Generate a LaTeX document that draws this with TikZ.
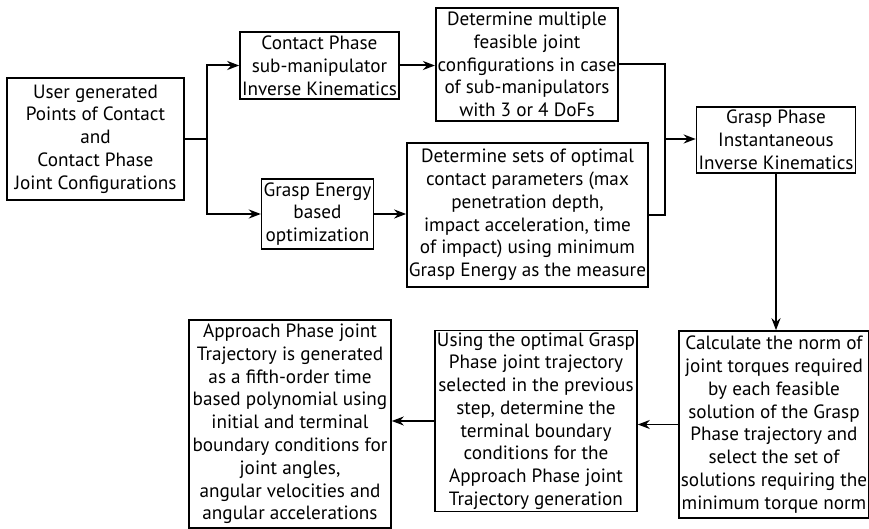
\documentclass[tikz,border=0pt]{standalone}
\usepackage{fontspec}
\setmainfont{PT Sans}
\usetikzlibrary{arrows.meta, positioning}

\begin{document}
\begin{tikzpicture}[
    x=0.5pt, y=-0.5pt,
    box/.style={rectangle, draw, line width=0.8pt, align=center, inner sep=1pt, font=\fontsize{9.6}{11.4}\selectfont},
    arrow/.style={-{Stealth[length=6pt, width=4.5pt]}, line width=1pt},
    link/.style={line width=1pt}
]
\useasboundingbox (0,0) rectangle (869,529);

% first row of steps
\node[box, minimum width=88.5pt, minimum height=61pt] (user) at (95.5,139) {User generated\\Points of Contact\\and\\Contact Phase\\Joint Configurations};
\node[box, minimum width=78.5pt, minimum height=33.5pt] (contact) at (319.5,65.5) {Contact Phase\\sub-manipulator\\Inverse Kinematics};
\node[box, minimum width=54.5pt, minimum height=35pt] (genergy) at (317.5,214) {Grasp Energy\\based\\optimization};
\node[box, minimum width=90pt, minimum height=56.5pt] (multi) at (527,64.5) {Determine multiple\\feasible joint\\configurations in case\\of sub-manipulators\\with 3 or 4 DoFs};
\node[box, minimum width=120.5pt, minimum height=72pt] (sets) at (527.5,215) {Determine sets of optimal\\contact parameters (max\\penetration depth,\\impact acceleration, time\\of impact) using minimum\\Grasp Energy as the measure};
\node[box, minimum width=79pt, minimum height=33pt] (gphase) at (776,140) {Grasp Phase\\Instantaneous\\Inverse Kinematics};

% second row of steps
\node[box, minimum width=94pt, minimum height=93.5pt] (calc) at (774,424.5) {Calculate the norm of\\joint torques required\\by each feasible\\solution of the Grasp\\Phase trajectory and\\select the set of\\solutions requiring the\\minimum torque norm};
\node[box, minimum width=99pt, minimum height=89pt] (using) at (536,421) {Using the optimal Grasp\\Phase joint trajectory\\selected in the previous\\step, determine the\\terminal boundary\\conditions for the\\Approach Phase joint\\Trajectory generation};
\node[box, minimum width=101pt, minimum height=104pt] (approach) at (290,424) {Approach Phase joint\\Trajectory is generated\\as a fifth-order time\\based polynomial using\\initial and terminal\\boundary conditions for\\joint angles,\\angular velocities and\\angular accelerations};

\coordinate (split) at (207,139);
\coordinate (join) at (665,139);

\draw[link] (user.east) -- (split);
\draw[arrow] (split) |- (contact.west);
\draw[arrow] (split) |- (genergy.west);
\draw[arrow] (contact.east) -- (contact.east -| multi.west);
\draw[arrow] (genergy.east) -- (genergy.east -| sets.west);
\draw[link] (multi.east) -| (join);
\draw[link] (sets.east) -| (join);
\draw[arrow] (join) -- (join -| gphase.west);
\draw[arrow] (gphase.south) -- (gphase.south |- calc.north);
\draw[arrow, line width=0.7pt] (calc.west) -- (calc.west -| using.east);
\draw[arrow, line width=0.7pt] (using.west) -- (using.west -| approach.east);
\end{tikzpicture}
\end{document}
